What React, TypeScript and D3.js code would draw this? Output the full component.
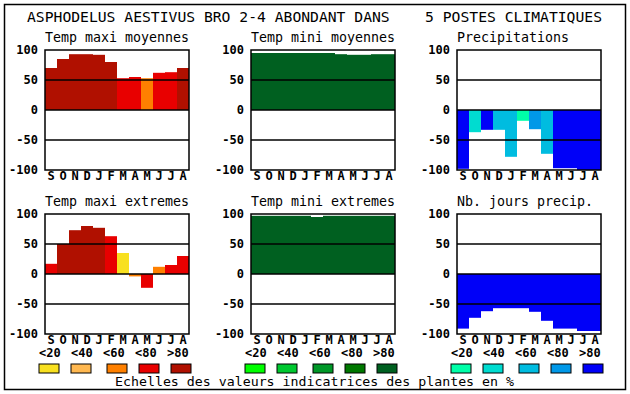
import * as d3 from 'd3';

const months = ['S', 'O', 'N', 'D', 'J', 'F', 'M', 'A', 'M', 'J', 'J', 'A'];
const yTicks = [100, 50, 0, -50, -100];
const classLabels = ['<20', '<40', '<60', '<80', '>80'];

const reds = ['#f8e020', '#ffb850', '#ff8000', '#e80000', '#b01000'];
const greens = ['#00ff00', '#00c830', '#009828', '#007800', '#006020'];
const blues = ['#00ffa8', '#00dcd0', '#00bce0', '#0098e8', '#0000f8'];

const tmaxMoy = [70, 85, 93, 93, 92, 80, 53, 55, 53, 62, 63, 70];
const tmaxMoyCls = [4, 4, 4, 4, 4, 4, 3, 3, 2, 3, 3, 4];
const tminMoy = [95, 95, 95, 95, 95, 95, 95, 93, 92, 92, 93, 93];
const tminMoyCls = [4, 4, 4, 4, 4, 4, 4, 4, 4, 4, 4, 4];
const precip = [-98, -37, -33, -33, -78, -18, -32, -73, -97, -97, -100, -100];
const precipCls = [4, 1, 4, 2, 2, 0, 3, 2, 4, 4, 4, 4];
const tmaxExt = [17, 50, 73, 80, 77, 63, 35, -4, -23, 12, 15, 30];
const tmaxExtCls = [3, 4, 4, 4, 4, 3, 0, 2, 3, 2, 3, 3];
const tminExt = [97, 97, 97, 97, 97, 95, 97, 97, 97, 97, 97, 97];
const tminExtCls = [4, 4, 4, 4, 4, 4, 4, 4, 4, 4, 4, 4];
const nbJours = [-91, -73, -62, -57, -57, -57, -63, -78, -91, -91, -95, -95];
const nbJoursCls = [4, 4, 4, 4, 4, 4, 4, 4, 4, 4, 4, 4];

const panels = [
  { title: 'Temp maxi moyennes', values: tmaxMoy, cls: tmaxMoyCls, pal: reds, col: 0, row: 0 },
  { title: 'Temp mini moyennes', values: tminMoy, cls: tminMoyCls, pal: greens, col: 1, row: 0 },
  { title: 'Precipitations', values: precip, cls: precipCls, pal: blues, col: 2, row: 0 },
  { title: 'Temp maxi extremes', values: tmaxExt, cls: tmaxExtCls, pal: reds, col: 0, row: 1 },
  { title: 'Temp mini extremes', values: tminExt, cls: tminExtCls, pal: greens, col: 1, row: 1 },
  { title: 'Nb. jours precip.', values: nbJours, cls: nbJoursCls, pal: blues, col: 2, row: 1 },
];

const colX = [45, 251, 457];
const rowY = [50, 214];
const pw = 144;
const ph = 120;
const mono = '"DejaVu Sans Mono", monospace';

const Panel = ({ p }: { p: (typeof panels)[number] }) => {
  const x0 = colX[p.col];
  const y0 = rowY[p.row];
  const x = d3.scaleBand().domain(months.map((m, i) => `${i}`)).range([x0, x0 + pw]);
  const y = d3.scaleLinear().domain([-100, 100]).range([y0 + ph, y0]);
  return (
    <g>
      <text x={x0} y={y0 - 8} fontFamily={mono} fontSize={13.3}>
        {p.title}
      </text>
      <rect x={x0} y={y0} width={pw} height={ph} fill="#fff" />
      {p.values.map((v, i) => (
        <rect
          key={i}
          x={x(`${i}`)}
          y={Math.min(y(v), y(0))}
          width={x.bandwidth()}
          height={Math.abs(y(v) - y(0))}
          fill={p.pal[p.cls[i]]}
        />
      ))}
      {[50, 0, -50].map((t) => (
        <line key={t} x1={x0} x2={x0 + pw} y1={y(t)} y2={y(t)} stroke="#000" strokeWidth={1.5} />
      ))}
      <rect x={x0} y={y0} width={pw} height={ph} fill="none" stroke="#000" strokeWidth={1.5} />
      {yTicks.map((t) => (
        <text
          key={t}
          x={x0 - 7}
          y={y(t)}
          dy="0.35em"
          textAnchor="end"
          fontFamily={mono}
          fontWeight="bold"
          fontSize={12}
        >
          {t}
        </text>
      ))}
      {months.map((m, i) => (
        <text
          key={i}
          x={(x(`${i}`) ?? 0) + x.bandwidth() / 2}
          y={y0 + ph + 10}
          textAnchor="middle"
          fontFamily={mono}
          fontWeight="bold"
          fontSize={12}
        >
          {m}
        </text>
      ))}
    </g>
  );
};

const legendOffsets = [0, 32, 64, 96, 128];
const swatchShift = [0, 0, 4, 4, 4];
const legendX = [39, 245, 451];
const legendPals = [reds, greens, blues];

export default function App() {
  return (
    <svg width={630} height={394} style={{ position: 'absolute', left: 0, top: 0, background: '#fff' }}>
      <rect x={4.5} y={4.5} width={621} height={385} fill="#fff" stroke="#000" strokeWidth={1.5} />
      <text
        x={27}
        y={22}
        fontFamily={mono}
        fontSize={14}
        textLength={575}
        lengthAdjust="spacingAndGlyphs"
        style={{ whiteSpace: 'pre' }}
      >
        {'ASPHODELUS AESTIVUS BRO 2-4 ABONDANT DANS    5 POSTES CLIMATIQUES'}
      </text>
      {panels.map((p, i) => (
        <Panel key={i} p={p} />
      ))}
      {legendX.map((lx, k) => (
        <g key={k}>
          {classLabels.map((l, i) => (
            <g key={i}>
              <text x={lx + legendOffsets[i]} y={357} fontFamily={mono} fontWeight="bold" fontSize={12}>
                {l}
              </text>
              <rect
                x={lx + legendOffsets[i] + swatchShift[i]}
                y={364}
                width={20}
                height={9}
                fill={legendPals[k][i]}
                stroke="#000"
                strokeWidth={1}
              />
            </g>
          ))}
        </g>
      ))}
      <text x={115} y={386} fontFamily={mono} fontSize={13} textLength={399} lengthAdjust="spacingAndGlyphs">
        Echelles des valeurs indicatrices des plantes en %
      </text>
    </svg>
  );
}
